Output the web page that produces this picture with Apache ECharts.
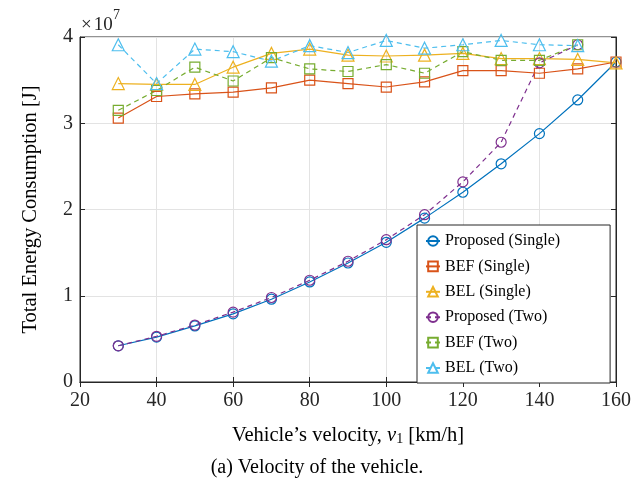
<!DOCTYPE html>
<html>
<head>
<meta charset="utf-8">
<script src="https://cdn.jsdelivr.net/npm/echarts@6/dist/echarts.min.js"></script>
<style>
  html, body { margin: 0; padding: 0; background: #fff; }
  #main { width: 634px; height: 479px; }
</style>
</head>
<body>
<div id="main"></div>
<script>
// 速度 (km/h)
const xs = [30, 40, 50, 60, 70, 80, 90, 100, 110, 120, 130, 140, 150, 160];
// 能耗, 單位 1e7 J
const propSingle = [0.42, 0.52, 0.65, 0.79, 0.96, 1.16, 1.38, 1.62, 1.90, 2.20, 2.53, 2.88, 3.27, 3.71];
const befSingle  = [3.06, 3.31, 3.34, 3.36, 3.41, 3.50, 3.46, 3.42, 3.48, 3.61, 3.61, 3.58, 3.63, 3.71];
const belSingle  = [3.46, 3.45, 3.45, 3.65, 3.81, 3.86, 3.79, 3.78, 3.79, 3.81, 3.75, 3.75, 3.74, 3.70];
const propTwo    = [0.42, 0.53, 0.66, 0.81, 0.98, 1.18, 1.40, 1.65, 1.94, 2.32, 2.78, 3.70, 3.91];
const befTwo     = [3.15, 3.38, 3.65, 3.49, 3.76, 3.63, 3.60, 3.68, 3.58, 3.83, 3.73, 3.73, 3.91];
const belTwo     = [3.91, 3.46, 3.86, 3.83, 3.72, 3.90, 3.82, 3.96, 3.87, 3.91, 3.96, 3.91, 3.90];
const yTicks = [0, 1, 2, 3, 4];

const serif = 'Liberation Serif';
let chart = echarts.init(document.getElementById("main"));

function pairs(vals) {
    return vals.map((v, i) => [xs[i], v * 1e7]);
}

function makeSeries(name, vals, color, symbol, dashed) {
    return {
        name: name,
        type: 'line',
        data: pairs(vals),
        symbol: symbol,
        symbolSize: symbol === 'triangle' ? 12 : 10,
        showSymbol: true,
        itemStyle: { color: 'rgba(255,255,255,0)', borderColor: color, borderWidth: 1.2 },
        lineStyle: { color: color, width: 1.2, type: dashed ? [5, 4] : 'solid' },
        emphasis: { disabled: true },
        animation: false
    };
}

let option = {
    backgroundColor: '#fff',
    textStyle: { fontFamily: serif },
    grid: { left: 80, right: 17, top: 37, bottom: 97, show: true, borderColor: '#262626', borderWidth: 1 },
    legend: {
        orient: 'vertical',
        left: 417, top: 225,
        padding: [8, 50, 7, 8],
        itemWidth: 14, itemHeight: 12, itemGap: 9.4,
        backgroundColor: '#fff',
        borderColor: '#262626', borderWidth: 1,
        textStyle: { fontFamily: serif, fontSize: 16, lineHeight: 16, color: '#000' },
        data: ['Proposed (Single)', 'BEF (Single)', 'BEL (Single)', 'Proposed (Two)', 'BEF (Two)', 'BEL (Two)']
    },
    title: {
        text: '(a) Velocity of the vehicle.',
        left: 'center', top: 453,
        textStyle: { fontFamily: serif, fontSize: 20, fontWeight: 'normal', color: '#000' }
    },
    // ×10^7 指數
    graphic: [{
        type: 'text', left: 81, top: 16,
        style: {
            text: '{a|×}{g|}{a|10}',
            rich: {
                a: { fontFamily: serif, fontSize: 19, lineHeight: 19, fill: '#262626' },
                g: { width: 2 }
            }
        }
    }, {
        type: 'text', left: 113, top: 8,
        style: {
            text: '{b|7}',
            rich: { b: { fontFamily: serif, fontSize: 14, lineHeight: 14, fill: '#262626' } }
        }
    }],
    xAxis: [{
        type: 'value', min: 20, max: 160, interval: 20,
        name: '{n|Vehicle\u2019s velocity, }{i|v}{s|1}{n| [km/h]}',
        nameLocation: 'middle', nameGap: 43,
        nameTextStyle: {
            rich: {
                n: { fontFamily: serif, fontSize: 20.5, color: '#000' },
                i: { fontFamily: serif, fontSize: 20.5, fontStyle: 'italic', color: '#000' },
                s: { fontFamily: serif, fontSize: 14, color: '#000', verticalAlign: 'bottom', padding: [7, 0, 0, 0] }
            }
        },
        axisLine: { show: true, lineStyle: { color: '#262626' } },
        axisTick: { inside: true, length: 5, lineStyle: { color: '#262626' } },
        axisLabel: { fontFamily: serif, fontSize: 20, color: '#262626', margin: 9 },
        splitLine: { show: true, lineStyle: { color: '#e3e3e3', width: 1 } }
    }, {
        type: 'value', min: 20, max: 160, interval: 20, position: 'top',
        axisLine: { show: true, lineStyle: { color: '#262626' } },
        axisTick: { inside: true, length: 5, lineStyle: { color: '#262626' } },
        axisLabel: { show: false }, splitLine: { show: false }
    }],
    yAxis: [{
        type: 'value', min: 0, max: 4e7, interval: 1e7,
        name: 'Total Energy Consumption [J]',
        nameLocation: 'middle', nameGap: 39,
        nameTextStyle: { fontFamily: serif, fontSize: 20.5, color: '#000' },
        axisLine: { show: true, lineStyle: { color: '#262626' } },
        axisTick: { show: true, inside: true, length: 5, lineStyle: { color: '#262626' } },
        axisLabel: { fontFamily: serif, fontSize: 20, color: '#262626', margin: 7,
            formatter: (v) => String(yTicks[Math.round(v / 1e7)]) },
        splitLine: { show: true, lineStyle: { color: '#e3e3e3', width: 1 } }
    }, {
        type: 'value', min: 0, max: 4e7, interval: 1e7, position: 'right',
        axisLine: { show: true, lineStyle: { color: '#262626' } },
        axisTick: { show: true, inside: true, length: 5, lineStyle: { color: '#262626' } },
        axisLabel: { show: false }, splitLine: { show: false }
    }],
    series: [
        makeSeries('Proposed (Single)', propSingle, '#0072BD', 'circle', false),
        makeSeries('BEF (Single)', befSingle, '#D95319', 'rect', false),
        makeSeries('BEL (Single)', belSingle, '#EDB120', 'triangle', false),
        makeSeries('Proposed (Two)', propTwo, '#7E2F8E', 'circle', true),
        makeSeries('BEF (Two)', befTwo, '#77AC30', 'rect', true),
        makeSeries('BEL (Two)', belTwo, '#4DBEEE', 'triangle', true)
    ]
};

chart.setOption(option);
</script>
</body>
</html>
